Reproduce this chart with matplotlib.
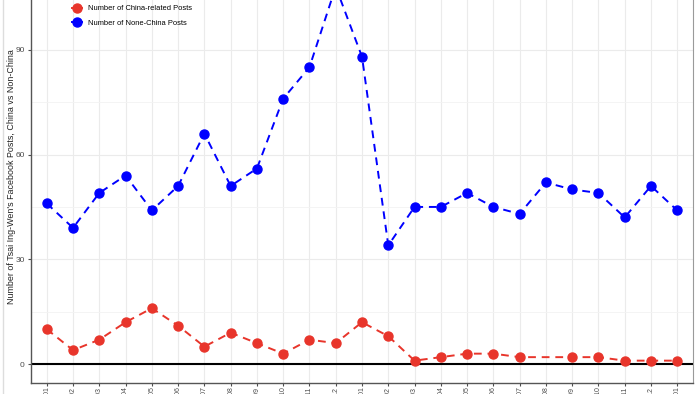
import numpy as np
import matplotlib
matplotlib.use("Agg")
import matplotlib.pyplot as plt
from matplotlib.lines import Line2D

plt.rcParams['font.family'] = ['Liberation Sans', 'DejaVu Sans']

# months shown on the x axis (labels are cut off by the bottom edge)
months = ["2019-01", "2019-02", "2019-03", "2019-04", "2019-05", "2019-06",
          "2019-07", "2019-08", "2019-09", "2019-10", "2019-11", "2019-12",
          "2020-01", "2020-02", "2020-03", "2020-04", "2020-05", "2020-06",
          "2020-07", "2020-08", "2020-09", "2020-10", "2020-11", "2020-12",
          "2021-01"]

# posts not about China, every month
non_china = [46, 39, 49, 54, 44, 51, 66, 51, 56, 76, 85, 108,
             88, 34, 45, 45, 49, 45, 43, 52, 50, 49, 42, 51, 44]

# China-related posts (no entry for 2020-08)
china_months = [m for m in months if m != "2020-08"]
china = [10, 4, 7, 12, 16, 11, 5, 9, 6, 3, 7, 6,
         12, 8, 1, 2, 3, 3, 2, 2, 2, 1, 1, 1]

red = "#E8352B"
blue = "#0000FF"

fig = plt.figure(figsize=(7, 3.94), dpi=100)
# panel runs past the top edge, as in the cropped screenshot
ax = fig.add_axes([31 / 700, 11 / 394, 662 / 700, 415 / 394])

x_all = np.arange(len(months))
x_china = [months.index(m) for m in china_months]

ax.plot(x_china, china, color=red, ls=(0, (4, 3)), lw=1.4, zorder=3)
ax.plot(x_all, non_china, color=blue, ls=(0, (4, 3)), lw=1.4, zorder=3)
ax.plot(x_china, china, 'o', color=red, ms=6.5, zorder=4)
ax.plot(x_all, non_china, 'o', color=blue, ms=6.5, zorder=4)
ax.axhline(0, color='black', lw=1.5, zorder=2)

ax.set_xlim(-0.6, len(months) - 0.4)
ax.set_ylim(-5.4, 113.4)
ax.set_yticks([0, 30, 60, 90])
ax.set_yticks([15, 45, 75, 105], minor=True)
ax.set_xticks(x_all)
ax.set_xticklabels(months, rotation=90, fontsize=5, color='#4D4D4D')
ax.tick_params(axis='y', labelsize=6, colors='#4D4D4D', length=2.5, pad=2)
ax.tick_params(axis='y', which='minor', length=0)
ax.tick_params(axis='x', length=2, pad=0.6, colors='#4D4D4D')

ax.grid(True, which='major', color='#EBEBEB', lw=0.8)
ax.grid(True, which='minor', axis='y', color='#F3F3F3', lw=0.6)
ax.set_axisbelow(True)

for s in ['left', 'bottom']:
    ax.spines[s].set_color('#555555')
    ax.spines[s].set_linewidth(1.0)
ax.spines['right'].set_color('#9A9A9A')
ax.spines['top'].set_visible(False)

ax.set_ylabel("Number of Tsai Ing-Wen's Facebook Posts, China vs Non-China",
              fontsize=6.4, color='#222222')
ax.yaxis.set_label_coords(-0.023, 0.497)

handles = [Line2D([], [], color=red, marker='o', ms=6.5, lw=1.4),
           Line2D([], [], color=blue, marker='o', ms=6.5, lw=1.4)]
ax.legend(handles, ["Number of China-related Posts", "Number of None-China Posts"],
          loc='upper left', bbox_to_anchor=(37 / 662, (415 - 33.5) / 415),
          frameon=False, fontsize=5.4, handlelength=1.3, handletextpad=0.8,
          labelspacing=0.95, borderpad=0)

# faint window edge on the left of the screenshot
fig.add_artist(Line2D([3 / 700, 3 / 700], [0, 1], color='#DDDDDD', lw=1))

fig.savefig("out.png", dpi=100)
